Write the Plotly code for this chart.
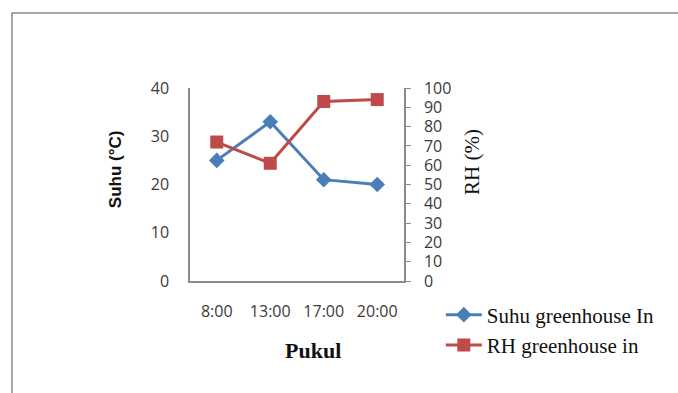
import plotly.graph_objects as go

categories = ["8:00", "13:00", "17:00", "20:00"]
suhu_values = [25, 33, 21, 20]
rh_values = [72, 61, 93, 94]
suhu_ticks = [0, 10, 20, 30, 40]
rh_ticks = [0, 10, 20, 30, 40, 50, 60, 70, 80, 90, 100]

BLUE = "#4A7EBB"
RED = "#BE4B48"
AXIS = "#8C8C8C"
TICKFONT = dict(family="Open Sans", size=16, color="#3A3A3A")

fig = go.Figure()
fig.add_trace(go.Scatter(
    x=categories, y=suhu_values, name="Suhu greenhouse In",
    mode="lines+markers", line=dict(color=BLUE, width=3),
    marker=dict(symbol="diamond", size=12, color=BLUE),
    legendgroup="a", yaxis="y"))
fig.add_trace(go.Scatter(
    x=categories, y=rh_values, name="RH greenhouse in",
    mode="lines+markers", line=dict(color=RED, width=3),
    marker=dict(symbol="square", size=13, color=RED),
    legendgroup="b", yaxis="y2"))

fig.update_layout(
    width=678, height=393,
    margin=dict(l=190, r=274, t=88, b=112),
    paper_bgcolor="white", plot_bgcolor="white",
    showlegend=True,
    legend=dict(x=1.172, y=-0.07, xanchor="left", yanchor="top",
                font=dict(family="Liberation Serif", size=21, color="#111"),
                tracegroupgap=0, itemwidth=36, bgcolor="rgba(0,0,0,0)"),
    xaxis=dict(type="category", categoryarray=categories, range=[-0.5, 3.5],
               showline=True, linecolor=AXIS, linewidth=1.5, ticks="",
               showgrid=False, zeroline=False, tickfont=TICKFONT,
               ticklabelstandoff=15),
    yaxis=dict(range=[0, 40], tickvals=suhu_ticks, showline=True,
               linecolor=AXIS, linewidth=1.5, ticks="", showgrid=False,
               zeroline=False, tickfont=TICKFONT, ticklabelstandoff=16),
    yaxis2=dict(range=[0, 100], tickvals=rh_ticks, overlaying="y",
                side="right", showline=True, linecolor=AXIS, linewidth=1.5,
                ticks="outside", ticklen=5, tickcolor=AXIS, showgrid=False,
                zeroline=False, tickfont=TICKFONT, ticklabelstandoff=10),
    annotations=[
        dict(text="<b>Suhu (°C)</b>", xref="paper", yref="paper",
             x=-0.350, y=0.580, xanchor="center", yanchor="middle",
             textangle=-90, showarrow=False,
             font=dict(family="Liberation Sans", size=17, color="#111")),
        dict(text="RH (%)", xref="paper", yref="paper",
             x=1.318, y=0.617, xanchor="center", yanchor="middle",
             textangle=-90, showarrow=False,
             font=dict(family="Liberation Serif", size=21, color="#111")),
        dict(text="<b>Pukul</b>", xref="paper", yref="paper",
             x=0.575, y=-0.358, xanchor="center", yanchor="middle",
             showarrow=False,
             font=dict(family="Liberation Serif", size=22, color="#111")),
    ],
    shapes=[dict(type="path", xref="paper", yref="paper",
                 path="M -0.832,-0.65 L -0.832,1.389 L 2.40,1.389",
                 line=dict(color="#8A8A8A", width=1.5))],
)

fig.write_html("out.html")
